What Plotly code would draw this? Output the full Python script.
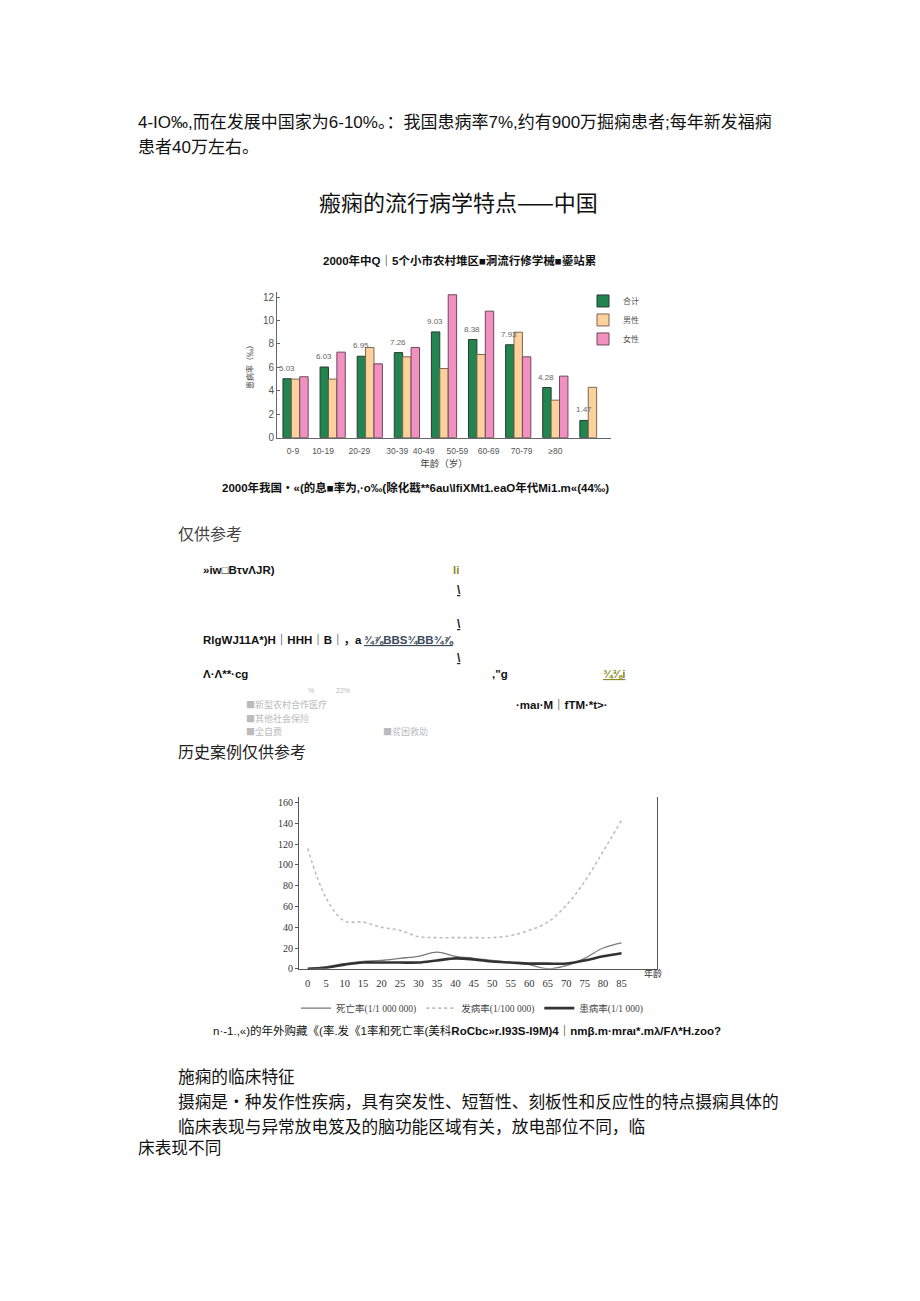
import plotly.graph_objects as go

W, H = 920, 1301


def px(x):
    return x / W


def py(y):
    return 1 - y / H


# ---------------- data: bar chart (2000年 患病率 ‰) ----------------
age_groups = ["0-9", "10-19", "20-29", "30-39", "40-49", "50-59", "60-69", "70-79", "≥80"]
bar_series = ["合计", "男性", "女性"]
total = [5.03, 6.03, 6.95, 7.26, 9.03, 8.38, 7.93, 4.28, 1.47]
total_labels = ["5.03", "6.03", "6.95", "7.26", "9.03", "8.38", "7.93", "4.28", "1.47"]
male = [5.0, 5.0, 7.7, 6.9, 5.9, 7.1, 9.0, 3.2, 4.3]
female = [5.2, 7.3, 6.3, 7.7, 12.2, 10.8, 6.9, 5.25, None]
bar_yticks = [0, 2, 4, 6, 8, 10, 12]

# ---------------- data: line chart (美国 Rochester) ----------------
ages = [0, 5, 10, 15, 20, 25, 30, 35, 40, 45, 50, 55, 60, 65, 70, 75, 80, 85]
line_series = ["死亡率(1/1 000 000)", "发病率(1/100 000)", "患病率(1/1 000)"]
death = [0, 2, 5, 7, 8, 10, 12, 16, 12, 10, 8, 6, 4, 0, 3, 10, 20, 25]
incidence = [116, 68, 46, 45, 40, 37, 31, 30, 30, 30, 30, 32, 37, 45, 61, 84, 113, 143]
prevalence = [0, 1, 4, 6, 6, 6, 6, 8, 10, 9, 7, 6, 5, 5, 5, 8, 12, 15]
line_yticks = [0, 20, 40, 60, 80, 100, 120, 140, 160]

CJK = "Noto Sans CJK SC"
MIX = "Liberation Sans, Arial, Noto Sans CJK SC"
SERIF = "Liberation Serif, DejaVu Serif, Noto Sans CJK SC"

fig = go.Figure()

# ---- bars ----
idx = list(range(len(age_groups)))
fig.add_trace(go.Bar(
    x=idx, y=total, name=bar_series[0],
    marker=dict(color="#22844f", line=dict(color="#2f3a30", width=1)),
    xaxis="x", yaxis="y", legend="legend"))
fig.add_trace(go.Bar(
    x=idx, y=male, name=bar_series[1],
    marker=dict(color="#fcd19c", line=dict(color="#7d6650", width=1)),
    xaxis="x", yaxis="y", legend="legend"))
fig.add_trace(go.Bar(
    x=idx, y=female, name=bar_series[2],
    marker=dict(color="#f191c2", line=dict(color="#6e4a58", width=1)),
    xaxis="x", yaxis="y", legend="legend"))

# value labels over the 合计 bars (drawn on top of neighbouring bars)
for i, (v, lab) in enumerate(zip(total, total_labels)):
    fig.add_annotation(text=lab, x=i - 0.24, y=v, xref="x", yref="y", xanchor="center",
                       yanchor="bottom", yshift=4, showarrow=False,
                       font=dict(size=8, color="#666", family=MIX))

# ---- lines ----
fig.add_trace(go.Scatter(
    x=ages, y=death, name=line_series[0], mode="lines", line_shape="spline",
    line=dict(color="#7a7a7a", width=1.3), xaxis="x2", yaxis="y2", legend="legend2"))
fig.add_trace(go.Scatter(
    x=ages, y=incidence, name=line_series[1], mode="lines", line_shape="spline",
    line=dict(color="#bdbdbd", width=1.6, dash="dot"), xaxis="x2", yaxis="y2", legend="legend2"))
fig.add_trace(go.Scatter(
    x=ages, y=prevalence, name=line_series[2], mode="lines", line_shape="spline",
    line=dict(color="#333333", width=2.6), xaxis="x2", yaxis="y2", legend="legend2"))

# positions of the (slightly offset) age labels under the bar groups
label_pos = [-0.07, 0.74, 1.72, 2.74, 3.45, 4.36, 5.2, 6.09, 7.0]

fig.update_layout(
    width=W, height=H, margin=dict(l=0, r=0, t=0, b=0),
    paper_bgcolor="white", plot_bgcolor="white",
    barmode="group", bargap=0.32, bargroupgap=0.0,
    font=dict(family=CJK, color="#222"),
    xaxis=dict(domain=[px(277), px(611)], range=[-0.5, 8.5], anchor="y",
               showline=True, linecolor="#666", linewidth=1, showgrid=False, zeroline=False,
               tickvals=label_pos, ticktext=age_groups, ticks="", ticklabelstandoff=5,
               tickfont=dict(size=8.5, color="#555", family=MIX),
               title=dict(text="年龄（岁）", font=dict(size=9.5, color="#444"), standoff=1)),
    yaxis=dict(domain=[py(439), py(293)], range=[0, 12.4], anchor="x",
               showline=True, linecolor="#666", linewidth=1, showgrid=False, zeroline=False,
               tickvals=bar_yticks, ticks="inside", ticklen=3, tickcolor="#666",
               tickfont=dict(size=10, color="#555", family=MIX),
               title=dict(text="患病率（‰）", font=dict(size=8, color="#444"), standoff=8)),
    xaxis2=dict(domain=[px(299), px(657)], range=[-2.36, 94.6], anchor="y2",
                showline=True, linecolor="#555", linewidth=1, showgrid=False, zeroline=False,
                tickvals=ages, ticks="", ticklabelstandoff=5,
                tickfont=dict(size=10.5, color="#333", family=SERIF)),
    yaxis2=dict(domain=[py(973), py(800)], range=[0, 165.8], anchor="x2",
                showline=True, mirror=True, linecolor="#555", linewidth=1, showgrid=False,
                zeroline=False, tickvals=line_yticks, ticks="outside", ticklen=3, tickcolor="#555",
                tickfont=dict(size=10, color="#333", family=SERIF)),
    legend=dict(x=px(583), y=py(287), xanchor="left", yanchor="top",
                font=dict(size=8, color="#555"), bgcolor="rgba(0,0,0,0)", tracegroupgap=0,
                itemwidth=30),
    legend2=dict(x=px(296), y=py(998), xanchor="left", yanchor="top", orientation="h",
                 font=dict(size=9.5, color="#444", family=SERIF), bgcolor="rgba(0,0,0,0)"),
)

# ---------------- page text ----------------
texts = [
    ("4-IO‰,而在发展中国家为6-10%。：我国患病率7%,约有900万掘痫患者;每年新发福痫", 136, 122, 17, "#111", MIX),
    ("患者40万左右。", 136, 147, 17, "#111", MIX),
    ("<b>2000年我国・«(的息■率为,·o‰(除化戡**6au\\lfiXMt1.eaO年代Mi1.m«(44‰)</b>", 220, 489, 11.5, "#111", MIX),
    ("仅供参考", 176, 535, 16, "#444", CJK),
    ("<b>»iw□BτvΛJR)</b>", 201, 572, 11.5, "#111", MIX),
    ("<b>li</b>", 451, 572, 11.5, "#8a8a2a", MIX),
    ("<b><u>\\</u></b>", 455, 592, 12, "#222", MIX),
    ("<b><u>\\</u></b>", 455, 626, 12, "#222", MIX),
    ("<b><u>\\</u></b>", 455, 661, 12, "#222", MIX),
    ("<b>RlgWJ11A*)H｜HHH｜B｜，a</b>", 201, 642, 11.5, "#111", MIX),
    ("<b><u>¾⅞BBS¾BB¾⅞</u></b>", 362, 642, 11.5, "#3a4a5a", MIX),
    ("<b>Λ·Λ**·cg</b>", 201, 677, 11.5, "#111", MIX),
    ("<b>,\"g</b>", 490, 677, 11.5, "#111", MIX),
    ("<b><u>¾⅜i</u></b>", 601, 677, 11.5, "#8a8a2a", MIX),
    ("%", 306, 693, 7, "#bbb", MIX),
    ("22%", 334, 693, 7, "#bbb", MIX),
    ("■新型农村合作医疗", 244, 707, 9, "#bbb", CJK),
    ("■其他社会保险", 244, 721, 9, "#bbb", CJK),
    ("■全自费", 244, 734, 9, "#bbb", CJK),
    ("■贫困救助", 381, 734, 9, "#bbb", CJK),
    ("<b>·maı·M｜fTM·*t>·</b>", 514, 707, 11.5, "#111", MIX),
    ("历史案例仅供参考", 176, 754, 16, "#222", CJK),
    ("年龄", 642, 978, 9, "#333", SERIF),
    ("n·-1.,«)的年外购藏《(率.发《1率和死亡率(美科<b>RoCbc»r.I93S-I9M)4｜nmβ.m·mraι*.mλ/FΛ*H.zoo?</b>", 211, 1035, 11.5, "#111", MIX),
    ("施痫的临床特征", 176, 1081, 16.7, "#111", CJK),
    ("摄痫是•种发作性疾病，具有突发性、短暂性、刻板性和反应性的特点摄痫具体的", 176, 1106, 16.7, "#111", CJK),
    ("临床表现与异常放电笈及的脑功能区域有关，放电部位不同，临", 176, 1131, 16.7, "#111", CJK),
    ("床表现不同", 136, 1152, 16.7, "#111", CJK),
]
for t, x, y, s, c, f in texts:
    fig.add_annotation(text=t, x=px(x), y=py(y), xref="paper", yref="paper",
                       xanchor="left", yanchor="middle", showarrow=False,
                       font=dict(size=s, color=c, family=f))

# centered titles
fig.add_annotation(text="瘢痫的流行病学特点——中国", x=px(458), y=py(201), xref="paper", yref="paper",
                   xanchor="center", yanchor="middle", showarrow=False,
                   font=dict(size=22, color="#111", family=CJK))
fig.add_annotation(text="<b>2000年中Q｜5个小市农村堆区■洞流行修学械■鎏站累</b>", x=px(459), y=py(261),
                   xref="paper", yref="paper", xanchor="center", yanchor="middle", showarrow=False,
                   font=dict(size=11.5, color="#111", family=MIX))

fig.write_html("out.html")
